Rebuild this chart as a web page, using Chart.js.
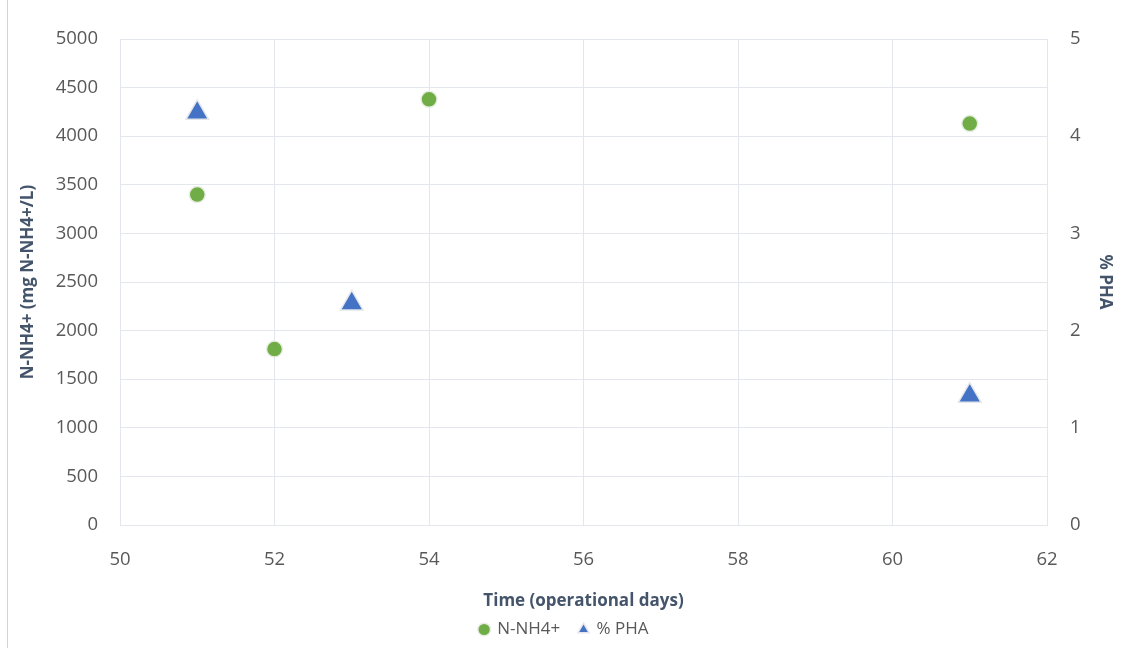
<!DOCTYPE html>
<html>
<head>
<meta charset="utf-8">
<script src="https://cdn.jsdelivr.net/npm/chart.js"></script>
<style>
  html, body { margin: 0; padding: 0; background: #fff; }
  #wrap { position: relative; width: 1136px; height: 648px; }
  #edge { position: absolute; left: 7px; top: 0; width: 1px; height: 648px; background: #d4d4d4; }
</style>
</head>
<body>
<div id="wrap">
  <div id="edge"></div>
  <canvas id="chart" width="1136" height="648"></canvas>
</div>
<script>
// measured values
const nh4Days = [51, 52, 54, 61];
const nh4Values = [3400, 1810, 4380, 4130];
const phaDays = [51, 53, 61];
const phaValues = [4.24, 2.28, 1.33];

const xTitle = 'Time (operational days)';
const yTitle = 'N-NH4+ (mg N-NH4+/L)';
const y1Title = '% PHA';

const gridColor = '#e3e6ec';
const tickColor = '#595959';
const titleColor = '#44546a';
const fontFamily = '"Open Sans", "Noto Sans", sans-serif';

const ctx = document.getElementById('chart').getContext('2d');

new Chart(ctx, {
  type: 'scatter',
  data: {
    datasets: [
      {
        label: 'N-NH4+',
        data: nh4Days.map((d, i) => ({ x: d, y: nh4Values[i] })),
        yAxisID: 'y',
        pointStyle: 'circle',
        pointRadius: 8,
        pointHoverRadius: 8,
        pointBackgroundColor: '#70ad47',
        pointBorderColor: '#e8eee4',
        pointBorderWidth: 1.5,
        backgroundColor: '#70ad47',
        borderColor: '#e8eee4',
      },
      {
        label: '% PHA',
        data: phaDays.map((d, i) => ({ x: d, y: phaValues[i] })),
        yAxisID: 'y1',
        pointStyle: 'triangle',
        pointRadius: 13,
        pointHoverRadius: 13,
        pointBackgroundColor: '#4472c4',
        pointBorderColor: '#e4e6ec',
        pointBorderWidth: 1.5,
        backgroundColor: '#4472c4',
        borderColor: '#e4e6ec',
      },
    ],
  },
  options: {
    responsive: false,
    animation: false,
    layout: { padding: { left: 18, right: 17, top: 39, bottom: 0 } },
    plugins: {
      legend: {
        position: 'bottom',
        labels: {
          usePointStyle: true,
          boxWidth: 9,
          boxHeight: 9,
          padding: 10,
          color: tickColor,
          font: { family: fontFamily, size: 17 },
          generateLabels: (chart) => Chart.defaults.plugins.legend.labels.generateLabels(chart)
            .map((l) => ({ ...l, text: l.text + '  ' })),
        },
      },
      tooltip: { enabled: false },
    },
    scales: {
      x: {
        type: 'linear',
        min: 50,
        max: 62,
        ticks: { stepSize: 2, color: tickColor, padding: 24, font: { family: fontFamily, size: 18.5 } },
        grid: { color: gridColor, drawTicks: false },
        border: { color: gridColor },
        title: {
          display: true,
          text: xTitle,
          color: titleColor,
          padding: { top: 10, bottom: 0 },
          font: { family: fontFamily, size: 17, weight: 'bold' },
        },
        afterFit: (s) => { s.height = 86; },
      },
      y: {
        position: 'left',
        min: 0,
        max: 5000,
        ticks: {
          stepSize: 500,
          color: tickColor,
          padding: 22,
          font: { family: fontFamily, size: 18.5 },
          callback: (v) => String(v),
        },
        grid: { color: gridColor, drawTicks: false },
        border: { color: gridColor },
        title: {
          display: true,
          text: yTitle,
          color: titleColor,
          padding: { top: 0, bottom: 2 },
          font: { family: fontFamily, size: 17, weight: 'bold' },
        },
        afterFit: (s) => { s.width = 102; },
      },
      y1: {
        position: 'right',
        min: 0,
        max: 5,
        ticks: { stepSize: 1, color: tickColor, padding: 23, font: { family: fontFamily, size: 18.5 } },
        grid: { drawOnChartArea: false, drawTicks: false },
        border: { color: gridColor },
        title: {
          display: true,
          text: y1Title,
          color: titleColor,
          padding: { top: 4, bottom: 0 },
          font: { family: fontFamily, size: 17, weight: 'bold' },
        },
        afterFit: (s) => { s.width = 72; },
      },
    },
  },
});
</script>
</body>
</html>
